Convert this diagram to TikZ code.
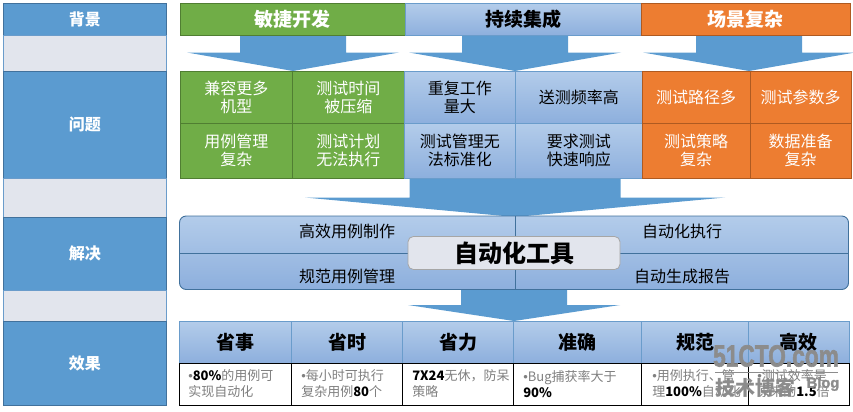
\documentclass[tikz,border=0pt]{standalone}
\usepackage{fontspec}
\setmainfont{Noto Sans CJK SC}
\setsansfont{Liberation Sans}
\newfontfamily\markfont[FakeBold=2,BoldFont={Liberation Sans Bold}]{Liberation Sans Bold}
\definecolor{side-blue}{HTML}{5B9BD0}
\definecolor{side-line}{HTML}{41719C}
\definecolor{gap-grey}{HTML}{E2E5ED}
\definecolor{agile-green}{HTML}{70AD47}
\definecolor{agile-line}{HTML}{507E32}
\definecolor{scene-orange}{HTML}{ED7D31}
\definecolor{scene-line}{HTML}{AE5A21}
\definecolor{soft-top}{HTML}{B3CCEA}
\definecolor{soft-bottom}{HTML}{8DAFDD}
\definecolor{soft-line}{HTML}{6A9CCB}
\definecolor{note-grey}{HTML}{808080}
\colorlet{mark-grey}{black!45}
\tikzset{
  side-box/.style={draw=side-line, fill=side-blue, text=white},
  gap-box/.style={draw=soft-line, fill=gap-grey},
  green-box/.style={draw=agile-line, fill=agile-green, text=white},
  soft-box/.style={draw=soft-line, top color=soft-top, bottom color=soft-bottom, text=black},
  orange-box/.style={draw=scene-line, fill=scene-orange, text=white},
  note-box/.style={draw=black, fill=white},
  side-text/.style={font=\fontsize{12}{14}\bfseries\selectfont},
  head-text/.style={font=\fontsize{14.25}{16}\bfseries\selectfont},
  cell-text/.style={font=\fontsize{12}{13.5}\selectfont, align=center},
  note-text/.style={font=\fontsize{9.75}{12}\selectfont, text=note-grey, align=left, anchor=west, inner sep=0pt},
  mark-text/.style={text=mark-grey, transform shape},
}
\newcommand{\notedot}{{\sffamily •}}
\newcommand{\notebold}[1]{\textcolor{black}{\textbf{#1}}}
% box with a text in the middle
\newcommand{\tikztextbox}[8][cell-text]{%
\draw[line width=0.7pt,#2] (#4,#5) rectangle (#6,#7) node[midway,#1] (#3) {#8};
}
% block arrow: centre, half shaft, half head, top, neck, tip
\newcommand{\tikzblockarrow}[6]{%
\fill[side-blue] (#1-#2,#4) -- (#1+#2,#4) -- (#1+#2,#5) -- (#1+#3,#5) -- (#1,#6) -- (#1-#3,#5) -- (#1-#2,#5) -- cycle;
}
\begin{document}
\begin{tikzpicture}[x=0.75pt, y=-0.75pt]
\useasboundingbox (0,0) rectangle (853,411);
% left column
\tikztextbox[side-text]{side-box}{side-bg}{3.5}{3.5}{166}{35.5}{背景}
\tikztextbox{gap-box}{gap-a}{3.5}{35.5}{166}{71}{}
\tikztextbox[side-text]{side-box}{side-problem}{3.5}{71}{166}{178}{问题}
\tikztextbox{gap-box}{gap-b}{3.5}{178}{166}{217}{}
\tikztextbox[side-text]{side-box}{side-solve}{3.5}{217}{166}{290.5}{解决}
\tikztextbox{gap-box}{gap-c}{3.5}{290.5}{166}{321}{}
\tikztextbox[side-text]{side-box}{side-effect}{3.5}{321}{166}{405}{效果}
% block arrows
\tikzblockarrow{293}{53}{106}{35.5}{52.5}{71}
\tikzblockarrow{515}{53}{106}{35.5}{52.5}{71}
\tikzblockarrow{749}{53}{106}{35.5}{52.5}{71}
\tikzblockarrow{515}{105.5}{210}{178}{197.5}{217}
\tikzblockarrow{514}{53}{106}{289.5}{305}{321}
% top row
\tikztextbox[head-text]{green-box}{head-agile}{180}{3.5}{405}{35.5}{敏捷开发}
\tikztextbox[head-text]{soft-box}{head-ci}{405}{3.5}{641}{35.5}{持续集成}
\tikztextbox[head-text]{orange-box}{head-scene}{641}{3.5}{850}{35.5}{场景复杂}
% problem cells
\tikztextbox{green-box}{p-a}{180}{71}{292.5}{123.5}{兼容更多\\机型}
\tikztextbox{green-box}{p-b}{292.5}{71}{404}{123.5}{测试时间\\被压缩}
\tikztextbox{green-box}{p-c}{180}{123.5}{292.5}{178}{用例管理\\复杂}
\tikztextbox{green-box}{p-d}{292.5}{123.5}{404}{178}{测试计划\\无法执行}
\tikztextbox{soft-box}{p-e}{404}{71}{515.5}{123.5}{重复工作\\量大}
\tikztextbox{soft-box}{p-f}{515.5}{71}{642}{123.5}{送测频率高}
\tikztextbox{soft-box}{p-g}{404}{123.5}{515.5}{178}{测试管理无\\法标准化}
\tikztextbox{soft-box}{p-h}{515.5}{123.5}{642}{178}{要求测试\\快速响应}
\tikztextbox{orange-box}{p-i}{642}{71}{750}{123.5}{测试路径多}
\tikztextbox{orange-box}{p-j}{750}{71}{851}{123.5}{测试参数多}
\tikztextbox{orange-box}{p-k}{642}{123.5}{750}{178}{测试策略\\复杂}
\tikztextbox{orange-box}{p-l}{750}{123.5}{851}{178}{数据准备\\复杂}
% tool band
\draw[line width=0.7pt,soft-box,draw=side-line,rounded corners=5pt] (179.5,216) rectangle (848.5,289.5);
\draw[side-line] (179.5,253.5) -- (848.5,253.5);
\draw[side-line] (515,216) -- (515,289.5);
\node[cell-text] (s-a) at (347,231) {高效用例制作};
\node[cell-text] (s-b) at (347,276) {规范用例管理};
\node[cell-text] (s-c) at (682,231.5) {自动化执行};
\node[cell-text] (s-d) at (682,276) {自动生成报告};
\draw[line width=0.6pt,draw=black!35,fill=gap-grey,rounded corners=4pt] (408,236.5) rectangle (620,269.5) node[midway,font=\fontsize{18}{20}\bfseries\selectfont] (tool) {自动化工具};
% effect table
\tikztextbox[head-text]{soft-box}{e-a}{179.5}{321.5}{291.5}{363}{省事}
\tikztextbox[head-text]{soft-box}{e-b}{291.5}{321.5}{402.5}{363}{省时}
\tikztextbox[head-text]{soft-box}{e-c}{402.5}{321.5}{513.5}{363}{省力}
\tikztextbox[head-text]{soft-box}{e-d}{513.5}{321.5}{641.5}{363}{准确}
\tikztextbox[head-text]{soft-box}{e-e}{641.5}{321.5}{748.5}{363}{规范}
\tikztextbox[head-text]{soft-box}{e-f}{748.5}{321.5}{849}{363}{高效}
\foreach \cellleft/\cellright/\cellname in {179.5/291.5/a,291.5/402.5/b,402.5/513.5/c,513.5/641.5/d,641.5/748.5/e,748.5/849/f} {
  \tikztextbox{note-box}{n-\cellname}{\cellleft}{363}{\cellright}{405}{}
}
\node[note-text] (t-a) at (188,384) {\notedot\notebold{80\%}的用例可\\实现自动化};
\node[note-text] (t-b) at (301,384) {\notedot 每小时可执行\\复杂用例\notebold{80}个};
\node[note-text] (t-c) at (412,384) {\notebold{7X24}无休，防呆\\策略};
\node[note-text] (t-d) at (523,384) {\notedot Bug捕获率大于\\\notebold{90\%}};
\node[note-text] (t-e) at (652,384) {\notedot 用例执行、管\\理\notebold{100\%}自动化};
\node[note-text] (t-f) at (757,384) {\notedot 测试效率是\\原来的\notebold{1.5}倍};
% site mark
\node[mark-text,xscale=0.74,font=\markfont\fontsize{23}{24}\selectfont] (mark-site) at (776,356) {51CTO.com};
\draw[mark-grey,line width=1.4pt] (715,372.5) -- (838,372.5);
\node[mark-text,font=\rmfamily\bfseries\fontsize{15}{16}\selectfont] (mark-blog) at (755,388) {技术博客};
\node[mark-text,font=\markfont\fontsize{11}{12}\selectfont] (mark-tag) at (823,384) {Blog};
\end{tikzpicture}
\end{document}
